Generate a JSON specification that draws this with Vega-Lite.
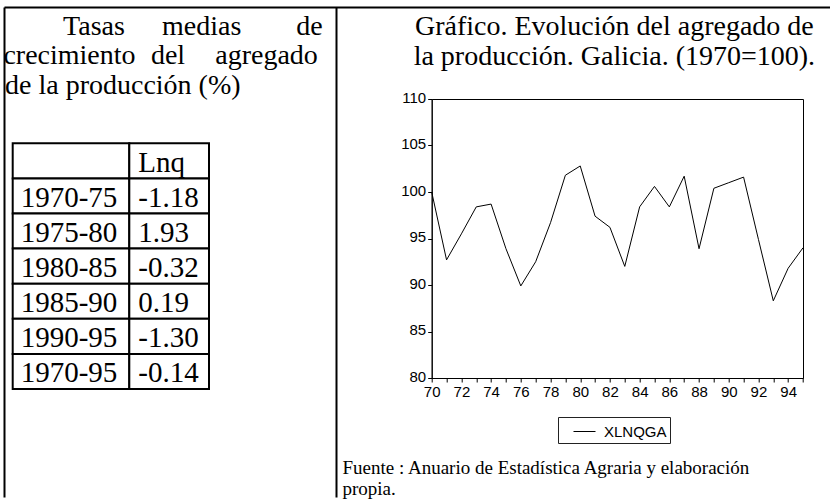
{
  "$schema": "https://vega.github.io/schema/vega-lite/v6.json",
  "padding": {"left": 3, "top": 7, "right": 0, "bottom": 0},
  "background": "white",
  "config": {"view": {"stroke": null}, "font": "Liberation Sans"},
  "bounds": "flush",
  "spacing": 95.7,
  "hconcat": [
    {
      "width": 332,
      "height": 490,
      "layer": [
        {
          "data": {"values": [{}]},
          "mark": {"type": "point", "opacity": 0, "size": 0, "strokeWidth": 0},
          "encoding": {
            "x": {"datum": 0, "type": "quantitative", "scale": {"domain": [0, 1], "range": [0, 826]},
                  "axis": {"orient": "top", "domain": true, "domainColor": "black", "domainWidth": 2, "ticks": false, "labels": false, "grid": false, "title": null}},
            "y": {"datum": 0, "type": "quantitative", "scale": {"domain": [0, 1], "range": [0, 490]},
                  "axis": {"orient": "left", "domain": true, "domainColor": "black", "domainWidth": 2, "ticks": false, "labels": false, "grid": false, "title": null}}
          }
        },
        {
          "data": {"values": [{}]},
          "mark": {"type": "point", "opacity": 0, "size": 0, "strokeWidth": 0},
          "encoding": {
            "y": {"datum": 0, "type": "quantitative", "scale": {"domain": [0, 1], "range": [0, 490]},
                  "axis": {"orient": "right", "domain": true, "domainColor": "black", "domainWidth": 2, "ticks": false, "labels": false, "grid": false, "title": null}}
          }
        },
        {
          "data": {"values": [{"linea": 1, "palabra": "Tasas"}, {"linea": 1, "palabra": "medias"}, {"linea": 1, "palabra": "de"}]},
          "mark": {"type": "text", "font": "Liberation Serif", "fontSize": 28, "color": "black", "align": "center", "baseline": "alphabetic"},
          "encoding": {
            "text": {"field": "palabra"},
            "x": {"field": "palabra", "type": "nominal", "sort": null, "scale": {"type": "point", "domain": ["Tasas", "medias", "de"], "range": [90, 305.5], "padding": 0}, "axis": null},
            "y": {"field": "linea", "type": "ordinal", "scale": {"type": "point", "domain": [1, 2, 3], "range": [27.5, 86.5], "padding": 0}, "axis": null}
          }
        },
        {
          "data": {"values": [{"linea": 2, "palabra": "crecimiento"}, {"linea": 2, "palabra": "del"}, {"linea": 2, "palabra": "agregado"}]},
          "mark": {"type": "text", "font": "Liberation Serif", "fontSize": 28, "color": "black", "align": "center", "baseline": "alphabetic"},
          "encoding": {
            "text": {"field": "palabra"},
            "x": {"field": "palabra", "type": "nominal", "sort": null, "scale": {"type": "point", "domain": ["crecimiento", "del", "agregado"], "range": [65.5, 262.5], "padding": 0}, "axis": null},
            "y": {"field": "linea", "type": "ordinal", "scale": {"type": "point", "domain": [1, 2, 3], "range": [27.5, 86.5], "padding": 0}, "axis": null}
          }
        },
        {
          "data": {"values": [{"linea": 3, "texto": "de la producción (%)"}]},
          "mark": {"type": "text", "font": "Liberation Serif", "fontSize": 28, "color": "black", "align": "left", "baseline": "alphabetic"},
          "encoding": {
            "text": {"field": "texto"},
            "x": {"field": "texto", "type": "nominal", "scale": {"type": "point", "range": [1, 1], "padding": 0}, "axis": null},
            "y": {"field": "linea", "type": "ordinal", "scale": {"type": "point", "domain": [1, 2, 3], "range": [27.5, 86.5], "padding": 0}, "axis": null}
          }
        },
        {
          "data": {"values": [
            {"periodo": "", "lnq": "Lnq"},
            {"periodo": "1970-75", "lnq": "-1.18"},
            {"periodo": "1975-80", "lnq": "1.93"},
            {"periodo": "1980-85", "lnq": "-0.32"},
            {"periodo": "1985-90", "lnq": "0.19"},
            {"periodo": "1990-95", "lnq": "-1.30"},
            {"periodo": "1970-95", "lnq": "-0.14"}
          ]},
          "layer": [
            {
              "mark": {"type": "rect", "fill": "white", "stroke": "black", "strokeWidth": 2},
              "encoding": {
                "x": {"datum": "periodo", "type": "nominal", "scale": {"type": "band", "domain": ["periodo"], "range": [8.7, 125.3], "paddingInner": 0, "paddingOuter": 0}, "axis": null},
                "y": {"field": "periodo", "type": "nominal", "sort": null, "scale": {"type": "band", "domain": ["", "1970-75", "1975-80", "1980-85", "1985-90", "1990-95", "1970-95"], "range": [136.3, 382], "paddingInner": 0, "paddingOuter": 0}, "axis": null}
              }
            },
            {
              "mark": {"type": "text", "font": "Liberation Serif", "fontSize": 29, "color": "black", "align": "left", "baseline": "alphabetic", "dx": 8, "dy": 11},
              "encoding": {
                "text": {"field": "periodo"},
                "x": {"datum": "periodo", "type": "nominal", "bandPosition": 0, "scale": {"type": "band", "domain": ["periodo"], "range": [8.7, 125.3], "paddingInner": 0, "paddingOuter": 0}, "axis": null},
                "y": {"field": "periodo", "type": "nominal", "sort": null, "scale": {"type": "band", "domain": ["", "1970-75", "1975-80", "1980-85", "1985-90", "1990-95", "1970-95"], "range": [136.3, 382], "paddingInner": 0, "paddingOuter": 0}, "axis": null}
              }
            },
            {
              "mark": {"type": "rect", "fill": "white", "stroke": "black", "strokeWidth": 2},
              "encoding": {
                "x": {"datum": "lnq", "type": "nominal", "scale": {"type": "band", "domain": ["lnq"], "range": [125.3, 205], "paddingInner": 0, "paddingOuter": 0}, "axis": null},
                "y": {"field": "periodo", "type": "nominal", "sort": null, "scale": {"type": "band", "domain": ["", "1970-75", "1975-80", "1980-85", "1985-90", "1990-95", "1970-95"], "range": [136.3, 382], "paddingInner": 0, "paddingOuter": 0}, "axis": null}
              }
            },
            {
              "mark": {"type": "text", "font": "Liberation Serif", "fontSize": 29, "color": "black", "align": "left", "baseline": "alphabetic", "dx": 9, "dy": 11},
              "encoding": {
                "text": {"field": "lnq"},
                "x": {"datum": "lnq", "type": "nominal", "bandPosition": 0, "scale": {"type": "band", "domain": ["lnq"], "range": [125.3, 205], "paddingInner": 0, "paddingOuter": 0}, "axis": null},
                "y": {"field": "periodo", "type": "nominal", "sort": null, "scale": {"type": "band", "domain": ["", "1970-75", "1975-80", "1980-85", "1985-90", "1990-95", "1970-95"], "range": [136.3, 382], "paddingInner": 0, "paddingOuter": 0}, "axis": null}
              }
            }
          ],
          "resolve": {"scale": {"x": "independent", "y": "independent"}, "axis": {"x": "independent", "y": "independent"}}
        }
      ],
      "resolve": {"scale": {"x": "independent", "y": "independent"}, "axis": {"x": "independent", "y": "independent"}}
    },
    {
      "bounds": "flush",
      "spacing": 0,
      "vconcat": [
        {
          "width": 371.3,
          "height": 91.3,
          "data": {"values": [
            {"linea": 1, "texto": "Gráfico. Evolución del agregado de"},
            {"linea": 2, "texto": "la producción. Galicia. (1970=100)."}
          ]},
          "mark": {"type": "text", "font": "Liberation Serif", "fontSize": 28, "color": "black", "align": "center", "baseline": "alphabetic", "dx": -3},
          "encoding": {
            "text": {"field": "texto"},
            "y": {"field": "linea", "type": "ordinal", "scale": {"type": "point", "domain": [1, 2], "range": [28, 58], "padding": 0}, "axis": null}
          }
        },
        {
          "width": 371.3,
          "height": 279,
          "view": {"stroke": "black", "strokeWidth": 1},
          "data": {"values": [
            {"anio": 1970, "valor": 100.0}, {"anio": 1971, "valor": 92.7}, {"anio": 1972, "valor": 95.5},
            {"anio": 1973, "valor": 98.4}, {"anio": 1974, "valor": 98.7}, {"anio": 1975, "valor": 93.9},
            {"anio": 1976, "valor": 89.9}, {"anio": 1977, "valor": 92.5}, {"anio": 1978, "valor": 96.7},
            {"anio": 1979, "valor": 101.8}, {"anio": 1980, "valor": 102.8}, {"anio": 1981, "valor": 97.4},
            {"anio": 1982, "valor": 96.2}, {"anio": 1983, "valor": 92.0}, {"anio": 1984, "valor": 98.4},
            {"anio": 1985, "valor": 100.6}, {"anio": 1986, "valor": 98.4}, {"anio": 1987, "valor": 101.7},
            {"anio": 1988, "valor": 93.9}, {"anio": 1989, "valor": 100.4}, {"anio": 1990, "valor": 101.0},
            {"anio": 1991, "valor": 101.6}, {"anio": 1992, "valor": 94.9}, {"anio": 1993, "valor": 88.3},
            {"anio": 1994, "valor": 91.8}, {"anio": 1995, "valor": 94.0}
          ]},
          "mark": {"type": "line", "strokeWidth": 1},
          "encoding": {
            "x": {
              "field": "anio", "type": "quantitative",
              "scale": {"domain": [1970, 1995], "nice": false, "zero": false},
              "axis": {
                "values": [1970, 1971, 1972, 1973, 1974, 1975, 1976, 1977, 1978, 1979, 1980, 1981, 1982, 1983, 1984, 1985, 1986, 1987, 1988, 1989, 1990, 1991, 1992, 1993, 1994, 1995],
                "labelExpr": "datum.value % 2 == 0 && datum.value < 1995 ? slice(toString(datum.value), 2) : ''",
                "labelOverlap": false, "labelFlush": false,
                "grid": false, "domainColor": "black", "domainWidth": 1, "tickColor": "black", "tickSize": 4, "tickWidth": 1,
                "labelFont": "Liberation Sans", "labelFontSize": 15, "labelColor": "black", "labelPadding": 2,
                "title": ["Fuente : Anuario de Estadística Agraria y elaboración", "propia."],
                "titleFont": "Liberation Serif", "titleFontSize": 19, "titleFontWeight": "normal", "titleColor": "black",
                "titleAlign": "left", "titleAnchor": "start", "titleBaseline": "alphabetic", "titleLineHeight": 21,
                "titleX": -89.7, "titleY": 95.7
              }
            },
            "y": {
              "field": "valor", "type": "quantitative",
              "scale": {"domain": [80, 110], "nice": false, "zero": false},
              "axis": {
                "values": [80, 85, 90, 95, 100, 105, 110],
                "grid": false, "domainColor": "black", "domainWidth": 1, "tickColor": "black", "tickSize": 4, "tickWidth": 1,
                "labelFont": "Liberation Sans", "labelFontSize": 15, "labelColor": "black", "labelPadding": 2, "labelOffset": -2,
                "labelFlush": false, "labelOverlap": false,
                "title": null
              }
            },
            "color": {
              "datum": "XLNQGA", "type": "nominal",
              "scale": {"range": ["black"]},
              "legend": {
                "orient": "none", "legendX": 554, "legendY": 410, "title": null,
                "strokeColor": "#222222", "fillColor": "white", "padding": 3,
                "symbolType": "stroke", "symbolSize": 484, "symbolStrokeWidth": 1, "symbolOffset": 12,
                "labelFont": "Liberation Sans", "labelFontSize": 15, "labelColor": "black", "labelOffset": 8
              }
            }
          }
        }
      ]
    }
  ]
}
